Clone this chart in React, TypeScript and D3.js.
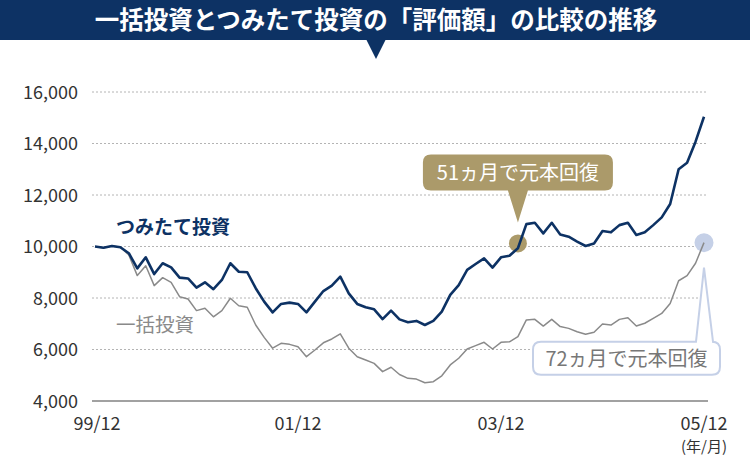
import React from "react";
import * as d3 from "d3";

const title = "一括投資とつみたて投資の「評価額」の比較の推移";
const xTickMonths = [0, 24, 48, 72];
const xTickLabels = ["99/12", "01/12", "03/12", "05/12"];
const yTicks = [4000, 6000, 8000, 10000, 12000, 14000, 16000];
const unitLabel = "(年/月)";

// monthly values from 99/12 (index 0) to 05/12 (index 72)
const tsumitate = [
  10000, 9950, 10020, 9970, 9740, 9150, 9580, 8930, 9350, 9190,
  8790, 8760, 8400, 8610, 8340, 8700, 9350, 9020, 9000, 8380,
  7860, 7440, 7770, 7820, 7770, 7440, 7860, 8270, 8480, 8830,
  8180, 7770, 7640, 7560, 7180, 7510, 7170, 7060, 7110, 6950,
  7110, 7470, 8120, 8500, 9090, 9320, 9540, 9180, 9580, 9640,
  9930, 10870, 10920, 10510, 10920, 10470, 10380, 10190, 10020, 10120,
  10600, 10550, 10830, 10920, 10450, 10550, 10830, 11130, 11650, 13000,
  13250, 14070, 15040,
];
const ikkatsu = [
  10000, 9950, 10020, 9970, 9670, 8870, 9250, 8480, 8790, 8610,
  8050, 7960, 7510, 7600, 7270, 7510, 7990, 7700, 7640, 6950,
  6470, 6050, 6240, 6200, 6110, 5720, 5980, 6260, 6410, 6610,
  6050, 5720, 5590, 5460, 5140, 5310, 5030, 4880, 4850, 4710,
  4750, 4980, 5400, 5660, 6020, 6150, 6280, 6020, 6280, 6300,
  6500, 7150, 7170, 6910, 7170, 6890, 6820, 6690, 6590, 6670,
  6990, 6950, 7170, 7230, 6910, 7020, 7210, 7400, 7790, 8670,
  8870, 9350, 10150,
];

const seriesNames = ["つみたて投資", "一括投資"];
const recoveryLabels = ["51ヵ月で元本回復", "72ヵ月で元本回復"];
const recoveryMonths = [50, 72];
const recoveryValues = [10120, 10150];

const NAVY = "#0d3264";
const GRAY = "#8a8a8a";
const TAN = "#ab9a6a";
const LIGHTBLUE = "#c5d0e7";
const FONT = "'Noto Sans CJK JP', 'Noto Sans', sans-serif";

export default function App() {
  const W = 750, H = 457;
  const x = d3.scaleLinear().domain([0, 72]).range([95, 704]);
  const y = d3.scaleLinear().domain([4000, 16000]).range([401, 92]);
  const line = d3
    .line<number>()
    .x((_, i) => x(i))
    .y((d) => y(d))
    .curve(d3.curveLinear);

  // callout 1 (tan, above)
  const c1x = x(recoveryMonths[0]);
  const c1y = y(recoveryValues[0]);
  const b1 = { x0: c1x - 95, x1: c1x + 95, y0: c1y - 89, y1: c1y - 53, r: 8 };
  const tip1 = { x: c1x, y: c1y - 21 };
  const callout1 = `M${b1.x0 + b1.r},${b1.y0} H${b1.x1 - b1.r} Q${b1.x1},${b1.y0} ${b1.x1},${b1.y0 + b1.r} V${b1.y1 - b1.r} Q${b1.x1},${b1.y1} ${b1.x1 - b1.r},${b1.y1} H${tip1.x + 10} L${tip1.x},${tip1.y} L${tip1.x - 10},${b1.y1} H${b1.x0 + b1.r} Q${b1.x0},${b1.y1} ${b1.x0},${b1.y1 - b1.r} V${b1.y0 + b1.r} Q${b1.x0},${b1.y0} ${b1.x0 + b1.r},${b1.y0} Z`;

  // callout 2 (white with light blue border, below)
  const c2x = x(recoveryMonths[1]);
  const c2y = y(recoveryValues[1]);
  const b2 = { x0: c2x - 171, x1: c2x + 16, y0: c2y + 99, y1: c2y + 132, r: 8 };
  const tip2 = { x: c2x, y: c2y + 25 };
  const callout2 = `M${b2.x0 + b2.r},${b2.y0} H${tip2.x - 8} L${tip2.x},${tip2.y} L${tip2.x + 9},${b2.y0} H${b2.x1 - b2.r} Q${b2.x1},${b2.y0} ${b2.x1},${b2.y0 + b2.r} V${b2.y1 - b2.r} Q${b2.x1},${b2.y1} ${b2.x1 - b2.r},${b2.y1} H${b2.x0 + b2.r} Q${b2.x0},${b2.y1} ${b2.x0},${b2.y1 - b2.r} V${b2.y0 + b2.r} Q${b2.x0},${b2.y0} ${b2.x0 + b2.r},${b2.y0} Z`;

  return (
    <svg
      width={W}
      height={H}
      viewBox={`0 0 ${W} ${H}`}
      style={{ position: "absolute", left: 0, top: 0, background: "#fff" }}
      fontFamily={FONT}
    >
      {/* title banner */}
      <rect x={0} y={0} width={W} height={40} fill={NAVY} />
      <path d={`M366,39 L386,39 L376,59 Z`} fill={NAVY} />
      <text x={376} y={29} textAnchor="middle" fill="#fff" fontSize={24.5} fontWeight={700}>
        {title}
      </text>

      {/* grid */}
      {yTicks.map((t) => (
        <g key={t}>
          <line
            x1={92}
            x2={708}
            y1={y(t)}
            y2={y(t)}
            stroke={t === 4000 ? "#444" : "#b4b4b4"}
            strokeWidth={t === 4000 ? 1.2 : 1}
            strokeDasharray={t === 4000 ? undefined : "2,2"}
          />
          <text x={78} y={y(t) + 6.5} textAnchor="end" fontSize={18} fill="#333">
            {d3.format(",")(t)}
          </text>
        </g>
      ))}

      {/* x labels */}
      {xTickMonths.map((m, i) => (
        <text key={m} x={x(m) + (i === 0 ? 2 : 0)} y={430} textAnchor="middle" fontSize={18} fill="#333">
          {xTickLabels[i]}
        </text>
      ))}
      <text x={x(72)} y={452} textAnchor="middle" fontSize={15} fill="#333">
        {unitLabel}
      </text>

      {/* markers */}
      <circle cx={c1x} cy={c1y} r={9} fill={TAN} />
      <circle cx={c2x} cy={c2y} r={9.5} fill={LIGHTBLUE} />

      {/* lines */}
      <path d={line(ikkatsu) || ""} fill="none" stroke={GRAY} strokeWidth={1.5} strokeLinejoin="round" />
      <path d={line(tsumitate) || ""} fill="none" stroke={NAVY} strokeWidth={2.6} strokeLinejoin="round" />

      {/* series labels */}
      <text x={116} y={234} fontSize={19} fontWeight={700} fill={NAVY}>
        {seriesNames[0]}
      </text>
      <text x={116} y={332} fontSize={19.5} fill={GRAY}>
        {seriesNames[1]}
      </text>

      {/* callouts */}
      <path d={callout1} fill={TAN} />
      <text x={c1x} y={b1.y1 - 10} textAnchor="middle" fontSize={20} fill="#fff">
        {recoveryLabels[0]}
      </text>
      <path d={callout2} fill="#fff" stroke={LIGHTBLUE} strokeWidth={2} />
      <text x={(b2.x0 + b2.x1) / 2} y={b2.y1 - 9} textAnchor="middle" fontSize={20} fill="#777">
        {recoveryLabels[1]}
      </text>
    </svg>
  );
}
